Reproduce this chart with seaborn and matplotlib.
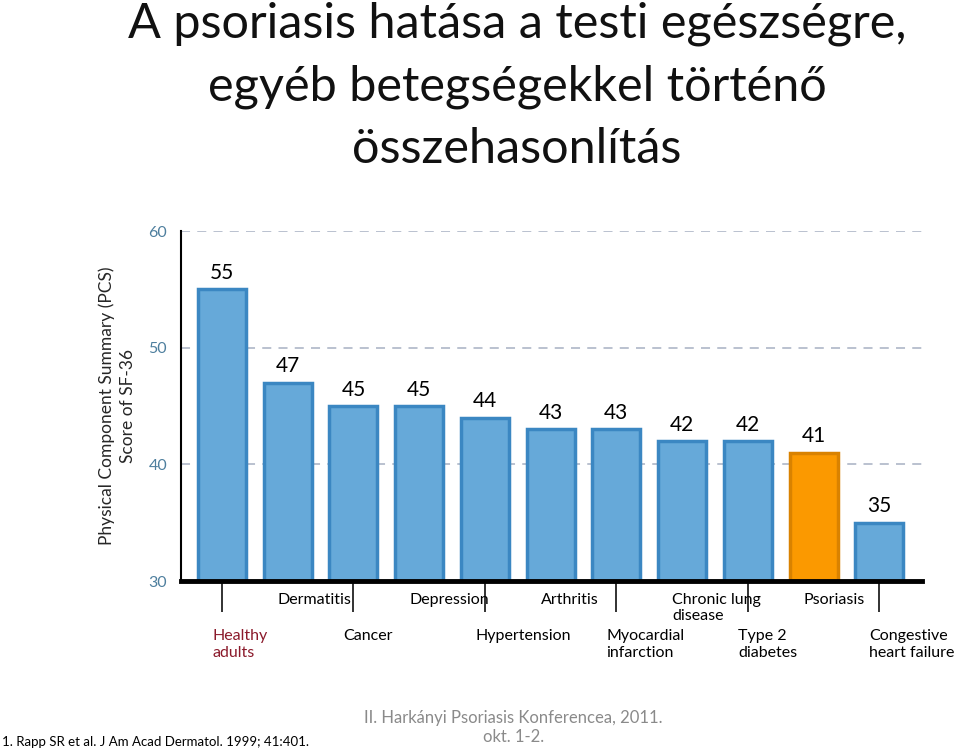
import numpy as np
import pandas as pd
import seaborn as sns
import matplotlib.pyplot as plt

# adatok
categories = ['Healthy adults', 'Dermatitis', 'Cancer', 'Depression', 'Hypertension',
              'Arthritis', 'Myocardial infarction', 'Chronic lung disease',
              'Type 2 diabetes', 'Psoriasis', 'Congestive heart failure']
pcs_scores = [55, 47, 45, 45, 44, 43, 43, 42, 42, 41, 35]
tick_labels = ['Healthy\nadults', 'Dermatitis', 'Cancer', 'Depression', 'Hypertension',
               'Arthritis', 'Myocardial\ninfarction', 'Chronic lung\ndisease',
               'Type 2\ndiabetes', 'Psoriasis', 'Congestive\nheart failure']

sns.set_style('white')
plt.rcParams['font.family'] = ['Lato', 'DejaVu Sans']

fill_cols = ['#66a9d9'] * len(categories)
edge_cols = ['#3b87c2'] * len(categories)
fill_cols[9] = '#fb9900'
edge_cols[9] = '#d98200'

df = pd.DataFrame({'cat': categories, 'score': pcs_scores})

fig = plt.figure(figsize=(9.59, 7.54), dpi=100)
ax = fig.add_axes([0.1887, 0.2294, 0.7727, 0.4642])

sns.barplot(data=df, x='cat', y='score', hue='cat', palette=fill_cols, legend=False,
            width=0.73, saturation=1, ax=ax, zorder=3)
for p, ec in zip(ax.patches, edge_cols):
    p.set_edgecolor(ec)
    p.set_linewidth(2.5)

ax.set_ylim(30, 60)
ax.set_xlim(-0.624, 10.65)

# racsvonalak
for yv in [40, 50, 60]:
    ax.axhline(yv, color='#b4bccb', lw=1.3, ls=(0, (5, 4)), zorder=1)

for s in ['top', 'right']:
    ax.spines[s].set_visible(False)
ax.spines['left'].set_color('black')
ax.spines['left'].set_linewidth(1.5)
ax.spines['bottom'].set_color('black')
ax.spines['bottom'].set_linewidth(3.5)
ax.spines['bottom'].set_zorder(5)

ax.set_yticks([30, 40, 50, 60])
ax.tick_params(axis='y', left=False, length=0, labelsize=11.5, labelcolor='#4e7f9e', pad=10)
ax.set_xticks(range(0, 11, 2))
ax.set_xticklabels([])
ax.tick_params(axis='x', bottom=True, length=22, width=1.3, color='#222222', direction='out')
ax.set_xlabel('')
ax.set_ylabel('Physical Component Summary (PCS)\nScore of SF-36', fontsize=12.5,
                labelpad=9, linespacing=1.35)

# ertekek a oszlopok felett
for i, v in enumerate(pcs_scores):
    ax.text(i, v + 0.55, str(v), ha='center', va='bottom', fontsize=15, color='black')

# kategoria feliratok ket sorban
trans = ax.get_xaxis_transform()
for i, lab in enumerate(tick_labels):
    if i % 2 == 1:
        yy = -0.034
    else:
        yy = -0.138
    col = '#8b1a2b' if i == 0 else 'black'
    ax.text(i - 0.15, yy, lab, transform=trans, ha='left', va='top', fontsize=11.5,
            color=col, linespacing=1.2)

fig.text(0.539, 0.998, 'A psoriasis hatása a testi egészségre,\negyéb betegségekkel történő\nösszehasonlítás',
         ha='center', va='top', fontsize=35, color='#111111', linespacing=1.5)

fig.text(0.002, 0.008, '1. Rapp SR et al. J Am Acad Dermatol. 1999; 41:401.', ha='left', va='bottom',
         fontsize=9.5, color='black')
fig.text(0.535, 0.012, 'II. Harkányi Psoriasis Konferencea, 2011.\nokt. 1-2.', ha='center', va='bottom',
         fontsize=12, color='#8a8a8a', linespacing=1.25)

fig.savefig('out.png', dpi=100)
